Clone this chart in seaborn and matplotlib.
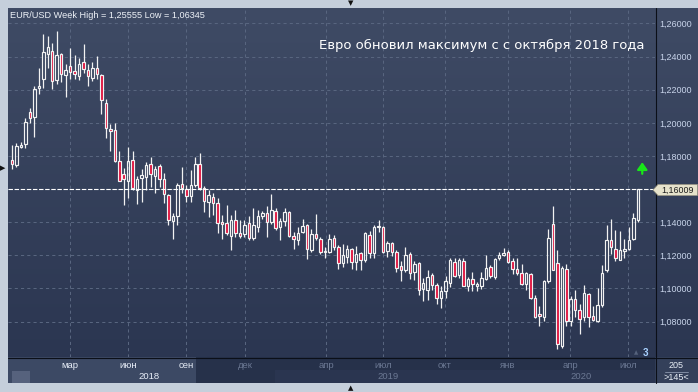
import numpy as np
import pandas as pd
import matplotlib
matplotlib.use("Agg")
import matplotlib.pyplot as plt
import seaborn as sns
from matplotlib.patches import Rectangle, Polygon
from matplotlib.lines import Line2D
from matplotlib.colors import LinearSegmentedColormap
from matplotlib.transforms import blended_transform_factory

# ---------------- data (weekly EUR/USD candles) ----------------
open_ = [1.1778, 1.1748, 1.1853, 1.1873, 1.2067, 1.2034, 1.2208, 1.2263, 1.2418, 1.2434,
         1.2257, 1.2418, 1.2289, 1.2343, 1.2313, 1.2283, 1.2370, 1.2319, 1.2273, 1.2333,
         1.2287, 1.2121, 1.1964, 1.1954, 1.1768, 1.1691, 1.1651, 1.1776, 1.1594, 1.1669,
         1.1675, 1.1749, 1.1681, 1.1739, 1.1659, 1.1564, 1.1408, 1.1440, 1.1628, 1.1598,
         1.1558, 1.1624, 1.1749, 1.1604, 1.1523, 1.1550, 1.1517, 1.1400, 1.1392, 1.1317,
         1.1416, 1.1337, 1.1331, 1.1396, 1.1305, 1.1368, 1.1436, 1.1453, 1.1404, 1.1469,
         1.1368, 1.1408, 1.1461, 1.1319, 1.1293, 1.1339, 1.1384, 1.1232, 1.1327, 1.1299,
         1.1218, 1.1220, 1.1307, 1.1253, 1.1152, 1.1192, 1.1238, 1.1162, 1.1212, 1.1172,
         1.1323, 1.1212, 1.1370, 1.1370, 1.1226, 1.1273, 1.1222, 1.1135, 1.1111, 1.1206,
         1.1097, 1.1156, 1.0996, 1.0990, 1.1081, 1.1020, 1.0943, 1.0984, 1.1030, 1.1162,
         1.1081, 1.1166, 1.1016, 1.1057, 1.1016, 1.1016, 1.1057, 1.1131, 1.1071, 1.1182,
         1.1202, 1.1222, 1.1166, 1.1117, 1.1095, 1.1028, 1.1085, 1.0944, 1.0847, 1.0826,
         1.1045, 1.1386, 1.1154, 1.0655, 1.1119, 1.0806, 1.0937, 1.0871, 1.0826, 1.0968,
         1.0836, 1.0806, 1.0897, 1.1113, 1.1295, 1.1240, 1.1174, 1.1224, 1.1240, 1.1301,
         1.1416]
high = [1.1869, 1.1879, 1.1885, 1.2030, 1.2091, 1.2222, 1.2329, 1.2539, 1.2525, 1.2485,
        1.2556, 1.2424, 1.2354, 1.2451, 1.2410, 1.2394, 1.2479, 1.2358, 1.2370, 1.2404,
        1.2293, 1.2141, 1.1990, 1.2000, 1.1828, 1.1727, 1.1853, 1.1832, 1.1679, 1.1719,
        1.1766, 1.1796, 1.1739, 1.1752, 1.1695, 1.1568, 1.1457, 1.1638, 1.1731, 1.1624,
        1.1715, 1.1796, 1.1816, 1.1618, 1.1594, 1.1574, 1.1543, 1.1442, 1.1503, 1.1442,
        1.1473, 1.1412, 1.1412, 1.1436, 1.1483, 1.1473, 1.1469, 1.1495, 1.1571, 1.1485,
        1.1428, 1.1485, 1.1465, 1.1339, 1.1370, 1.1420, 1.1386, 1.1360, 1.1448, 1.1313,
        1.1253, 1.1327, 1.1323, 1.1263, 1.1267, 1.1263, 1.1242, 1.1259, 1.1222, 1.1343,
        1.1347, 1.1384, 1.1414, 1.1374, 1.1287, 1.1283, 1.1232, 1.1166, 1.1248, 1.1222,
        1.1166, 1.1162, 1.1061, 1.1111, 1.1091, 1.1030, 1.1014, 1.1077, 1.1182, 1.1182,
        1.1182, 1.1182, 1.1071, 1.1097, 1.1036, 1.1101, 1.1202, 1.1141, 1.1186, 1.1222,
        1.1242, 1.1232, 1.1182, 1.1182, 1.1145, 1.1099, 1.1093, 1.0958, 1.0891, 1.1053,
        1.1356, 1.1497, 1.1234, 1.1133, 1.1150, 1.0952, 1.0992, 1.0907, 1.1018, 1.0972,
        1.0891, 1.1004, 1.1144, 1.1382, 1.1422, 1.1352, 1.1348, 1.1301, 1.1368, 1.1457,
        1.1602]
low = [1.1721, 1.1731, 1.1845, 1.1849, 1.2000, 1.1913, 1.2172, 1.2212, 1.2333, 1.2206,
       1.2232, 1.2248, 1.2156, 1.2263, 1.2263, 1.2257, 1.2303, 1.2220, 1.2253, 1.2263,
       1.2055, 1.1909, 1.1828, 1.1765, 1.1647, 1.1505, 1.1546, 1.1596, 1.1507, 1.1523,
       1.1594, 1.1614, 1.1574, 1.1610, 1.1513, 1.1382, 1.1301, 1.1382, 1.1578, 1.1523,
       1.1523, 1.1614, 1.1594, 1.1463, 1.1432, 1.1442, 1.1335, 1.1301, 1.1321, 1.1230,
       1.1311, 1.1307, 1.1311, 1.1291, 1.1295, 1.1341, 1.1422, 1.1310, 1.1388, 1.1354,
       1.1293, 1.1374, 1.1313, 1.1238, 1.1263, 1.1333, 1.1178, 1.1222, 1.1293, 1.1206,
       1.1182, 1.1216, 1.1232, 1.1117, 1.1131, 1.1152, 1.1117, 1.1111, 1.1111, 1.1162,
       1.1182, 1.1182, 1.1343, 1.1212, 1.1192, 1.1196, 1.1101, 1.1044, 1.1101, 1.1057,
       1.1051, 1.0960, 1.0923, 1.0929, 1.0990, 1.0903, 1.0879, 1.0939, 1.1010, 1.1067,
       1.1061, 1.1014, 1.0986, 1.0984, 1.0984, 1.0996, 1.1051, 1.1065, 1.1057, 1.1172,
       1.1196, 1.1152, 1.1085, 1.1081, 1.1020, 1.0992, 1.0937, 1.0824, 1.0772, 1.0802,
       1.1032, 1.1110, 1.06345, 1.0637, 1.0770, 1.0770, 1.0826, 1.0725, 1.0806, 1.0766,
       1.0802, 1.0796, 1.0887, 1.1099, 1.1210, 1.1166, 1.1170, 1.1186, 1.1234, 1.1295,
       1.1402]
close = [1.1752, 1.1859, 1.1869, 1.2006, 1.2030, 1.2206, 1.2220, 1.2430, 1.2461, 1.2253,
         1.2410, 1.2297, 1.2321, 1.2309, 1.2293, 1.2358, 1.2323, 1.2283, 1.2333, 1.2293,
         1.2135, 1.1966, 1.1950, 1.1768, 1.1651, 1.1661, 1.1772, 1.1606, 1.1659, 1.1685,
         1.1745, 1.1689, 1.1719, 1.1659, 1.1570, 1.1412, 1.1440, 1.1622, 1.1604, 1.1558,
         1.1622, 1.1749, 1.1604, 1.1527, 1.1564, 1.1513, 1.1396, 1.1386, 1.1337, 1.1416,
         1.1337, 1.1317, 1.1382, 1.1305, 1.1382, 1.1438, 1.1453, 1.1400, 1.1475, 1.1364,
         1.1408, 1.1461, 1.1319, 1.1297, 1.1333, 1.1374, 1.1238, 1.1327, 1.1303, 1.1222,
         1.1226, 1.1297, 1.1248, 1.1152, 1.1202, 1.1238, 1.1162, 1.1206, 1.1172, 1.1333,
         1.1212, 1.1370, 1.1378, 1.1222, 1.1273, 1.1222, 1.1125, 1.1111, 1.1202, 1.1091,
         1.1145, 1.0990, 1.1030, 1.1071, 1.1020, 1.0943, 1.0984, 1.1044, 1.1170, 1.1077,
         1.1172, 1.1016, 1.1057, 1.1024, 1.1026, 1.1061, 1.1125, 1.1077, 1.1178, 1.1202,
         1.1216, 1.1162, 1.1117, 1.1091, 1.1024, 1.1093, 1.0942, 1.0826, 1.0832, 1.1043,
         1.1307, 1.1113, 1.0665, 1.1125, 1.0806, 1.0937, 1.0871, 1.0816, 1.0972, 1.0830,
         1.0810, 1.0897, 1.1093, 1.1291, 1.1251, 1.1186, 1.1230, 1.1236, 1.1295, 1.1428,
         1.16009]

month_labels = ["мар", "июн", "сен", "дек", "апр", "июл", "окт", "янв", "апр", "июл"]
month_pos = [12.98, 25.95, 38.93, 52.13, 70.25, 83.0, 96.87, 110.96, 124.83, 137.81]
year_labels = ["2018", "2019", "2020"]
year_pos = [30.6, 84.05, 127.4]
price_ticks = [1.08, 1.10, 1.12, 1.14, 1.16, 1.18, 1.20, 1.22, 1.24, 1.26]
last_price = 1.16009
title_text = "EUR/USD Week High = 1,25555 Low = 1,06345"
headline = "Евро обновил максимум с с октября 2018 года"
bars_total = "205"
bars_visible = ">145<"
counter_text = "3"

# ---------------- figure ----------------
sns.set_theme(style="dark")
plt.rcParams["font.family"] = ["Liberation Sans", "DejaVu Sans"]

W, H = 698, 392
fig = plt.figure(figsize=(W / 100, H / 100), dpi=100)
fig.patch.set_facecolor("#c5cfdb")


def frect(x0, y0, x1, y1, **kw):
    return Rectangle((x0 / W, 1 - y1 / H), (x1 - x0) / W, (y1 - y0) / H,
                     transform=fig.transFigure, **kw)


def fpt(x, y):
    return (x / W, 1 - y / H)


# gradient background of the chart panel (plot + right scale)
bg = fig.add_axes([8 / W, 1 - 357 / H, (698 - 8) / W, (357 - 8) / H])
cmap = LinearSegmentedColormap.from_list("bg", ["#3f4b65", "#2b3651"])
bg.imshow(np.linspace(0, 1, 256)[:, None], cmap=cmap, aspect="auto",
          extent=(0, 1, 0, 1), interpolation="bilinear")
bg.set_axis_off()
bg.set_zorder(-1)

# bottom time band (drawn below the main axes so its labels stay visible)
fig.add_artist(frect(8, 357, 655, 383, facecolor="#26314a", edgecolor="none", zorder=0.5))
fig.add_artist(frect(275, 370, 655, 383, facecolor="#2a3550", edgecolor="none", zorder=0.5))
fig.add_artist(frect(8, 357, 196, 383, facecolor="#3c4964", edgecolor="none", zorder=0.5))
fig.add_artist(frect(12, 371, 30, 383, facecolor="#56627d", edgecolor="none", zorder=0.5))
fig.add_artist(frect(655, 357, 698, 383, facecolor="#34405a", edgecolor="none", zorder=0.5))

ax = fig.add_axes([8 / W, 1 - 357 / H, (655 - 8) / W, (357 - 8) / H])
ax.set_zorder(3)
ax.patch.set_alpha(0)

df = pd.DataFrame({"i": np.arange(len(open_)), "open": open_, "high": high,
                   "low": low, "close": close})
df["up"] = df["close"] >= df["open"]
df["top"] = df[["open", "close"]].max(axis=1)
df["bottom"] = df[["open", "close"]].min(axis=1)
df["height"] = (df["top"] - df["bottom"]).clip(lower=0.00012)

wick_c = "#f2f2f2"
ax.vlines(df["i"], df["top"], df["high"], color=wick_c, lw=0.9, zorder=2)
ax.vlines(df["i"], df["low"], df["bottom"], color=wick_c, lw=0.9, zorder=2)

up = df[df["up"]].reset_index(drop=True)
dn = df[~df["up"]].reset_index(drop=True)
sns.barplot(data=up, x="i", y="height", native_scale=True, orient="x",
            bottom=up["bottom"].values, width=0.56, fill=False, color=wick_c,
            linewidth=0.85, errorbar=None, saturation=1, ax=ax, zorder=3)
sns.barplot(data=dn, x="i", y="height", native_scale=True, orient="x",
            bottom=dn["bottom"].values, width=0.56, color="#e0103c",
            edgecolor=wick_c, linewidth=0.85, errorbar=None, saturation=1,
            ax=ax, zorder=3)

ax.set_xlim(-0.895, 143.85)
ax.set_ylim(1.05856, 1.26936)
ax.set_xlabel("")
ax.set_ylabel("")
for s in ax.spines.values():
    s.set_visible(False)

ax.set_xticks(month_pos)
ax.tick_params(axis="x", length=0, labelbottom=False)
ax.yaxis.tick_right()
ax.set_yticks(price_ticks)
ax.set_yticklabels(["" if abs(p - 1.16) < 1e-9 else f"{p:.5f}".replace(".", ",")
                    for p in price_ticks])
ax.tick_params(axis="y", length=0, pad=3, labelsize=6.5, labelcolor="#c8d4ea")
ax.grid(True, color="#58657f", lw=0.75, ls=(0, (3, 3)))
ax.set_axisbelow(True)

# current price line
ax.axhline(last_price, color="white", lw=0.8, ls=(0, (4, 1.5)), zorder=4)

# green arrow
ax.annotate("", xy=(len(open_), 1.1762), xytext=(len(open_), 1.1692),
            arrowprops=dict(arrowstyle="-|>,head_width=0.25,head_length=0.35",
                            color="#19e619", lw=1.6, shrinkA=0, shrinkB=0),
            zorder=5)

trans = blended_transform_factory(ax.transData, ax.transAxes)
for k, (lab, pos) in enumerate(zip(month_labels, month_pos)):
    col = "#e8eef8" if k < 3 else "#6b7893"
    ax.text(pos, -(366 - 357) / 349, lab, transform=trans, ha="center",
            va="center", fontsize=6.8, color=col, zorder=6)
for k, (lab, pos) in enumerate(zip(year_labels, year_pos)):
    col = "#e8eef8" if k == 0 else "#6b7893"
    ax.text(pos, -(376.5 - 357) / 349, lab, transform=trans, ha="center",
            va="center", fontsize=6.8, color=col, zorder=6)

# separators
fig.add_artist(Line2D([655.5 / W] * 2, [1 - 8 / H, 1 - 383 / H],
                      transform=fig.transFigure, color="#0b0f18", lw=0.8, zorder=7))
fig.add_artist(Line2D([8 / W, 698 / W], [1 - 357.5 / H] * 2,
                      transform=fig.transFigure, color="#0b0f18", lw=0.8, zorder=7))

# bars counter box
fig.text(*fpt(676, 365), bars_total, ha="center", va="center", fontsize=6.5,
         color="#e8eef6", zorder=8)
fig.add_artist(Line2D([665 / W, 688 / W], [1 - 371.5 / H] * 2,
                      transform=fig.transFigure, color="#8c98ae", lw=0.6, zorder=8))
fig.text(*fpt(676, 377.5), bars_visible, ha="center", va="center", fontsize=6.5,
         color="#e8eef6", zorder=8)

# price tag
tag = [fpt(653, 190), fpt(658, 184.5), fpt(697.5, 184.5), fpt(697.5, 195.5), fpt(658, 195.5)]
fig.add_artist(Polygon(tag, closed=True, transform=fig.transFigure,
                       facecolor="#e6e2cb", edgecolor="#9a9684", lw=0.5, zorder=9))
fig.text(*fpt(678, 190.3), f"{last_price:.5f}".replace(".", ","), ha="center",
         va="center", fontsize=6.4, color="#1c1c1c", zorder=10)

# texts
fig.text(*fpt(10, 15), title_text, ha="left", va="center", fontsize=6.6,
         color="#eef2f8", zorder=8)
fig.text(*fpt(319, 45.5), headline, ha="left", va="center", fontsize=9.45,
         color="white", family="DejaVu Sans", zorder=8)
fig.text(*fpt(645, 352.5), counter_text, ha="center", va="center", fontsize=7,
         color="#a9d2ff", fontweight="bold", zorder=8)
fig.text(*fpt(636, 353), "▲", ha="center", va="center", fontsize=4,
         color="#55627c", family="DejaVu Sans", zorder=8)

# scroll markers in the outer frame
fig.text(*fpt(351, 3), "▼", ha="center", va="center", fontsize=5,
         color="#111111", family="DejaVu Sans")
fig.text(*fpt(351, 388), "▲", ha="center", va="center", fontsize=5,
         color="#111111", family="DejaVu Sans")
fig.text(*fpt(3, 168), "▶", ha="center", va="center", fontsize=5,
         color="#111111", family="DejaVu Sans")

fig.savefig("out.png", dpi=100)
